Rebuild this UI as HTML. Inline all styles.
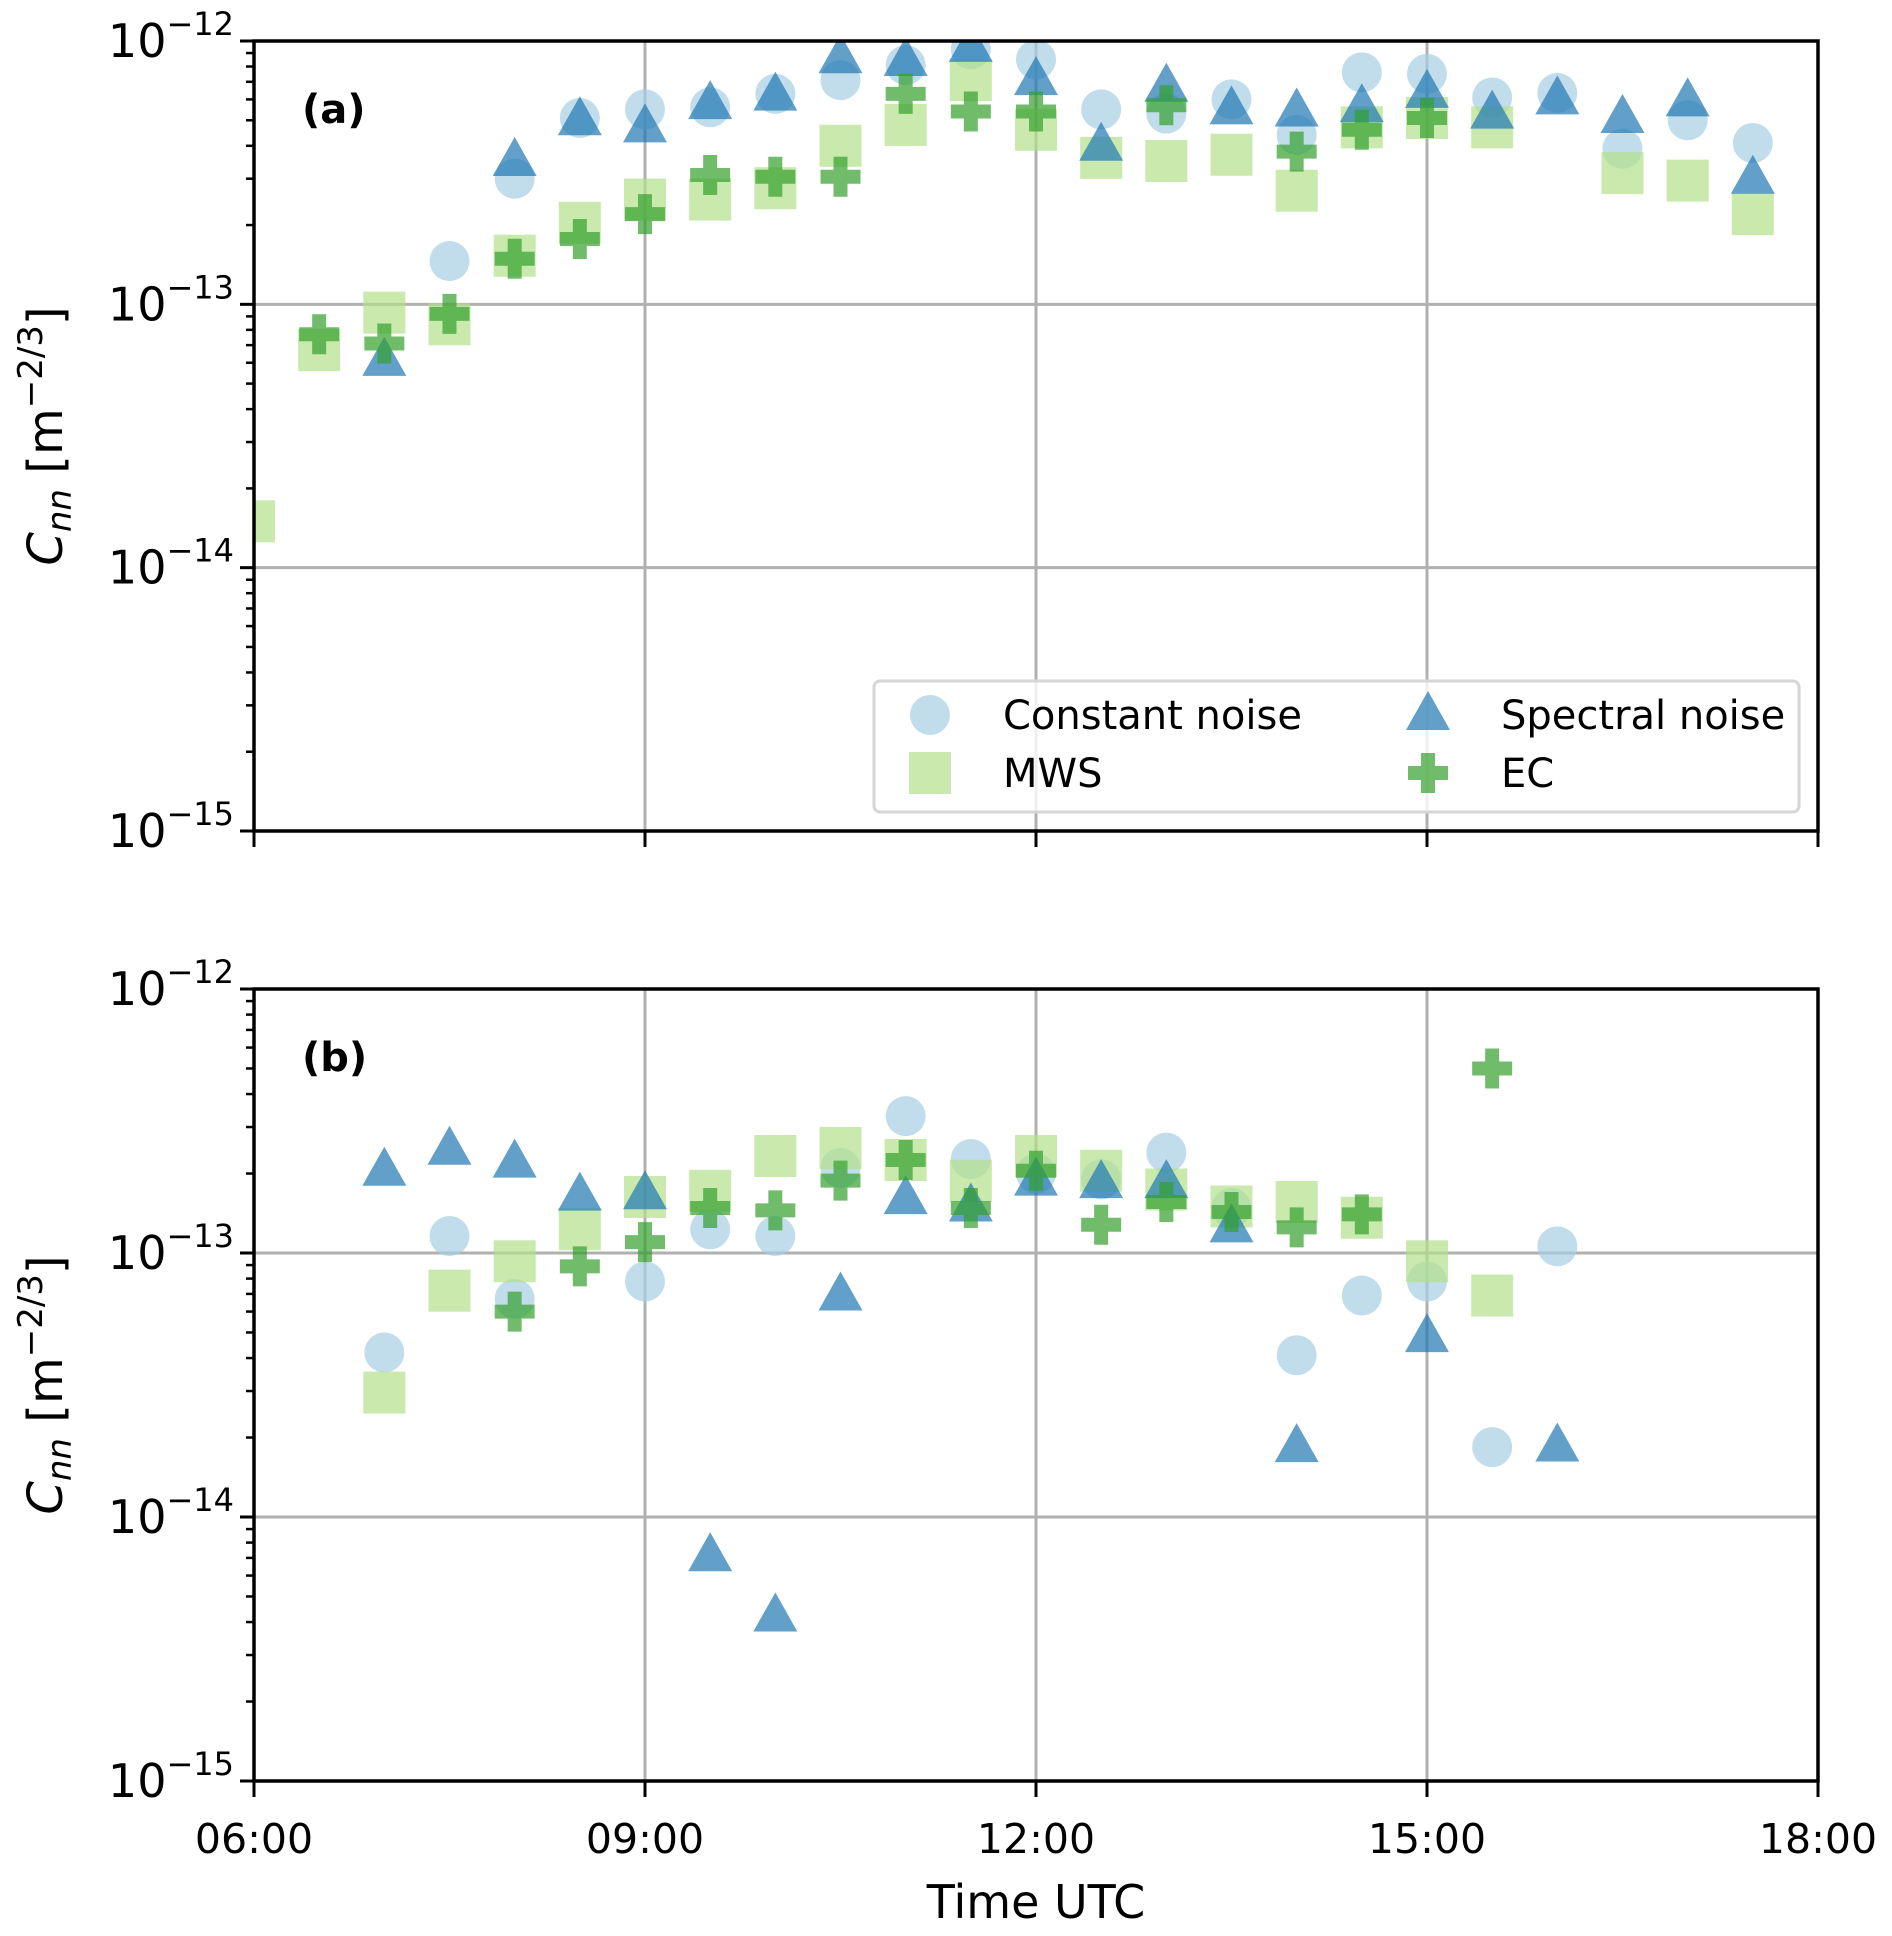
<!DOCTYPE html>
<html><head><meta charset="utf-8"><style>
body{margin:0;background:#fff}
svg{display:block;font-family:"DejaVu Sans","Liberation Sans",sans-serif}
</style></head><body>
<svg id="chart" width="1892" height="1936" viewBox="0 0 1892 1936"></svg>
<script>
const times=[6,6.5,7,7.5,8,8.5,9,9.5,10,10.5,11,11.5,12,12.5,13,13.5,14,14.5,15,15.5,16,16.5,17,17.5];
const xTickLabels=["06:00","09:00","12:00","15:00","18:00"];
const xTickHours=[6,9,12,15,18];
const yTickExps=[-12,-13,-14,-15];
const aConst=[null,null,null,1.46e-13,3.0e-13,5.1e-13,5.5e-13,5.6e-13,6.3e-13,7.1e-13,8.1e-13,9.3e-13,8.5e-13,5.5e-13,5.3e-13,6.0e-13,4.4e-13,7.6e-13,7.5e-13,6.1e-13,6.35e-13,3.9e-13,5.0e-13,4.1e-13];
const aSpec=[null,null,6.1e-14,null,3.5e-13,5.0e-13,4.7e-13,5.76e-13,6.2e-13,8.6e-13,8.4e-13,9.5e-13,7.1e-13,4.0e-13,6.7e-13,5.5e-13,5.4e-13,5.6e-13,6.35e-13,5.3e-13,6.0e-13,5.1e-13,5.9e-13,3.0e-13];
const aMws=[1.5e-14,6.7e-14,9.3e-14,8.4e-14,1.53e-13,2.04e-13,2.5e-13,2.5e-13,2.76e-13,4.0e-13,4.8e-13,7.1e-13,4.6e-13,3.6e-13,3.5e-13,3.7e-13,2.7e-13,4.7e-13,5.1e-13,4.7e-13,null,3.15e-13,2.95e-13,2.2e-13];
const aEc=[null,7.7e-14,7.1e-14,9.2e-14,1.49e-13,1.77e-13,2.2e-13,3.1e-13,3.05e-13,3.05e-13,6.3e-13,5.4e-13,5.4e-13,null,5.7e-13,null,3.8e-13,4.6e-13,5.1e-13,null,null,null,null,null];
const bConst=[null,null,4.2e-14,1.16e-13,6.7e-14,null,7.8e-14,1.23e-13,1.16e-13,2.1e-13,3.3e-13,2.27e-13,2.0e-13,1.9e-13,2.4e-13,1.48e-13,4.1e-14,6.9e-14,7.8e-14,1.84e-14,1.06e-13,null,null,null];
const bSpec=[null,null,2.05e-13,2.46e-13,2.2e-13,1.65e-13,1.67e-13,7.1e-15,4.2e-15,6.9e-14,1.6e-13,1.5e-13,1.88e-13,1.84e-13,1.84e-13,1.25e-13,1.84e-14,null,4.8e-14,null,1.85e-14,null,null,null];
const bMws=[null,null,2.96e-14,7.2e-14,9.3e-14,1.23e-13,1.63e-13,1.72e-13,2.33e-13,2.5e-13,2.25e-13,1.88e-13,2.33e-13,2.05e-13,1.74e-13,1.5e-13,1.56e-13,1.36e-13,9.3e-14,6.9e-14,null,null,null,null];
const bEc=[null,null,null,null,6.0e-14,8.9e-14,1.1e-13,1.48e-13,1.45e-13,1.88e-13,2.25e-13,1.48e-13,2.05e-13,1.28e-13,1.56e-13,1.43e-13,1.25e-13,1.4e-13,null,5.0e-13,null,null,null,null];

const NS="http://www.w3.org/2000/svg";
const svg=document.getElementById('chart');
function mk(tag,attrs,parent){const e=document.createElementNS(NS,tag);for(const k in attrs)e.setAttribute(k,attrs[k]);(parent||svg).appendChild(e);return e;}
const L=254,R=1818;
const xs=h=>L+(h-6)/12*(R-L);
const C={con:"#a6cee3",spec:"#1f78b4",mws:"#b2df8a",ec:"#33a02c"};
function marker(g,type,x,y){
  let e;
  if(type==="con"){e=mk('circle',{cx:x,cy:y,r:20,fill:C.con,'fill-opacity':0.7},g);}
  else if(type==="mws"){e=mk('rect',{x:x-21,y:y-21,width:42,height:42,fill:C.mws,'fill-opacity':0.7},g);}
  else if(type==="spec"){e=mk('polygon',{points:`${x},${y-24} ${x+22},${y+15} ${x-22},${y+15}`,fill:C.spec,'fill-opacity':0.7},g);}
  else {e=mk('path',{d:`M${x-7},${y-20}h14v13h13v14h-13v13h-14v-13h-13v-14h13z`,fill:C.ec,'fill-opacity':0.7},g);}
  return e;
}
function panel(top,bot,label,series,legend,name){
  const g=mk('g',{});
  
  
  const dec=(bot-top)/3;
  const ys=v=>top+(-12-Math.log10(v))*dec;
  const clip=mk('clipPath',{id:'clip'+label},g);
  mk('rect',{x:L,y:top,width:R-L,height:bot-top},clip);
  xTickHours.slice(1,-1).forEach(h=>{const l=mk('line',{x1:xs(h),x2:xs(h),y1:top,y2:bot,stroke:"#b0b0b0",'stroke-width':3},g);});
  yTickExps.slice(1,-1).forEach(e=>{const y=top+(-12-e)*dec;const l=mk('line',{x1:L,x2:R,y1:y,y2:y,stroke:"#b0b0b0",'stroke-width':3},g);});
  const mg=mk('g',{'clip-path':`url(#clip${label})`},g);
  series.forEach(([type,arr])=>{arr.forEach((v,i)=>{if(v==null)return;const m=marker(mg,type,xs(times[i]),ys(v));
    
    });});
  mk('rect',{x:L,y:top,width:R-L,height:bot-top,fill:'none',stroke:'#000','stroke-width':3.5},g);
  yTickExps.forEach(e=>{const y=top+(-12-e)*dec;
    mk('line',{x1:L-14,x2:L,y1:y,y2:y,stroke:'#000','stroke-width':3},g);
    const t=mk('text',{x:L-20,y:y+16,'text-anchor':'end','font-size':46},g);
    
    t.innerHTML=`10<tspan dy="-22" font-size="32">−${-e}</tspan>`;
    if(e>-15)for(let k=2;k<=9;k++){const y2=top+((-12-(e-1))-Math.log10(k))*dec;mk('line',{x1:L-8,x2:L,y1:y2,y2:y2,stroke:'#000','stroke-width':2.5},g);}
  });
  xTickHours.forEach(h=>mk('line',{x1:xs(h),x2:xs(h),y1:bot,y2:bot+16,stroke:'#000','stroke-width':3},g));
  const yl=mk('text',{transform:`translate(62,${(top+bot)/2}) rotate(-90)`,'text-anchor':'middle','font-size':48},g);
  
  yl.innerHTML=`<tspan font-style="italic">C</tspan><tspan font-style="italic" font-size="34" dy="9">nn</tspan><tspan dy="-9"> [m</tspan><tspan font-size="34" dy="-20">−2/3</tspan><tspan dy="20">]</tspan>`;
  const pl=mk('text',{x:302,y:top+82,'font-size':40,'font-weight':'bold'},g);
  pl.textContent=`(${label})`;
  
  if(legend){
    const lg=mk('g',{},g);
    
    mk('rect',{x:874,y:681,width:925,height:131,rx:6,fill:'#fff','fill-opacity':0.8,stroke:'#d6d6d6','stroke-width':3},lg);
    const ents=[["con","Constant noise",930,715],["spec","Spectral noise",1428,715],["mws","MWS",930,773],["ec","EC",1428,773]];
    ents.forEach(([t,txt,x,y])=>{const eg=mk('g',{},lg);
      marker(eg,t,x,y);const tt=mk('text',{x:x+73,y:y+14,'font-size':40},eg);tt.textContent=txt;});
  }
}
panel(41,831,'a',[["con",aConst],["mws",aMws],["spec",aSpec],["ec",aEc]],true,'panel-a');
panel(989,1781,'b',[["con",bConst],["mws",bMws],["spec",bSpec],["ec",bEc]],false,'panel-b');
xTickLabels.forEach((s,i)=>{const t=mk('text',{x:xs(xTickHours[i]),y:1853,'text-anchor':'middle','font-size':41});t.textContent=s;
  });
const xt=mk('text',{x:1036,y:1918,'text-anchor':'middle','font-size':46});xt.textContent="Time UTC";

</script>
</body></html>
